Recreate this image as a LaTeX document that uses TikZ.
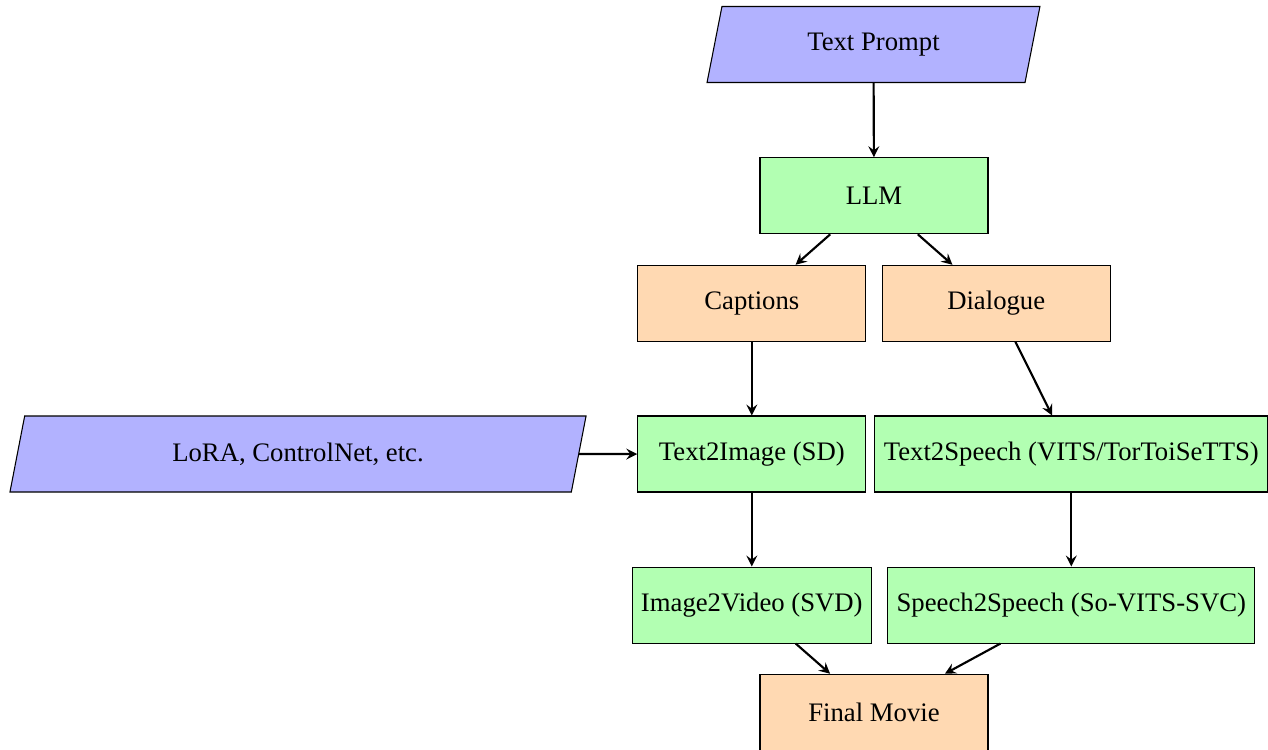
\documentclass[tikz,border=0pt]{standalone}
\usepackage{fontspec}
\setmainfont{Liberation Serif}
\usetikzlibrary{shapes.geometric}
\begin{document}
\begin{tikzpicture}[
  iobox/.style={trapezium, trapezium left angle=70, trapezium right angle=110, trapezium stretches body, minimum height=1cm, text centered, draw=black, fill=blue!30},
  procbox/.style={rectangle, minimum width=3cm, minimum height=1cm, text centered, draw=black, fill=green!30},
  databox/.style={rectangle, minimum width=3cm, minimum height=1cm, text centered, draw=black, fill=orange!30},
  arr/.style={thick,->,>=stealth}
]
\useasboundingbox (0,0) rectangle (16.684,-9.868);
\node[iobox, minimum width=4.38cm] (tp) at (11.493,-0.586) {Text Prompt};
\node[procbox] (llm) at (11.5,-2.576) {LLM};
\node[databox] (cap) at (9.892,-3.991) {Captions};
\node[databox] (dia) at (13.108,-3.991) {Dialogue};
\node[iobox, minimum width=7.58cm] (lora) at (3.921,-5.974) {LoRA, ControlNet, etc.};
\node[procbox] (t2i) at (9.892,-5.974) {Text2Image (SD)};
\node[procbox] (t2s) at (14.096,-5.974) {Text2Speech (VITS/TorToiSeTTS)};
\node[procbox] (i2v) at (9.892,-7.961) {Image2Video (SVD)};
\node[procbox] (s2s) at (14.096,-7.961) {Speech2Speech (So-VITS-SVC)};
\node[databox] (fm) at (11.5,-9.372) {Final Movie};
\draw[arr] (tp) -- (llm);
\draw[arr] (llm) -- (cap);
\draw[arr] (llm) -- (dia);
\draw[arr] (cap) -- (t2i);
\draw[arr] (dia) -- (t2s);
\draw[arr] (lora) -- (t2i);
\draw[arr] (t2i) -- (i2v);
\draw[arr] (t2s) -- (s2s);
\draw[arr] (i2v) -- (fm);
\draw[arr] (s2s) -- (fm);
\end{tikzpicture}
\end{document}
